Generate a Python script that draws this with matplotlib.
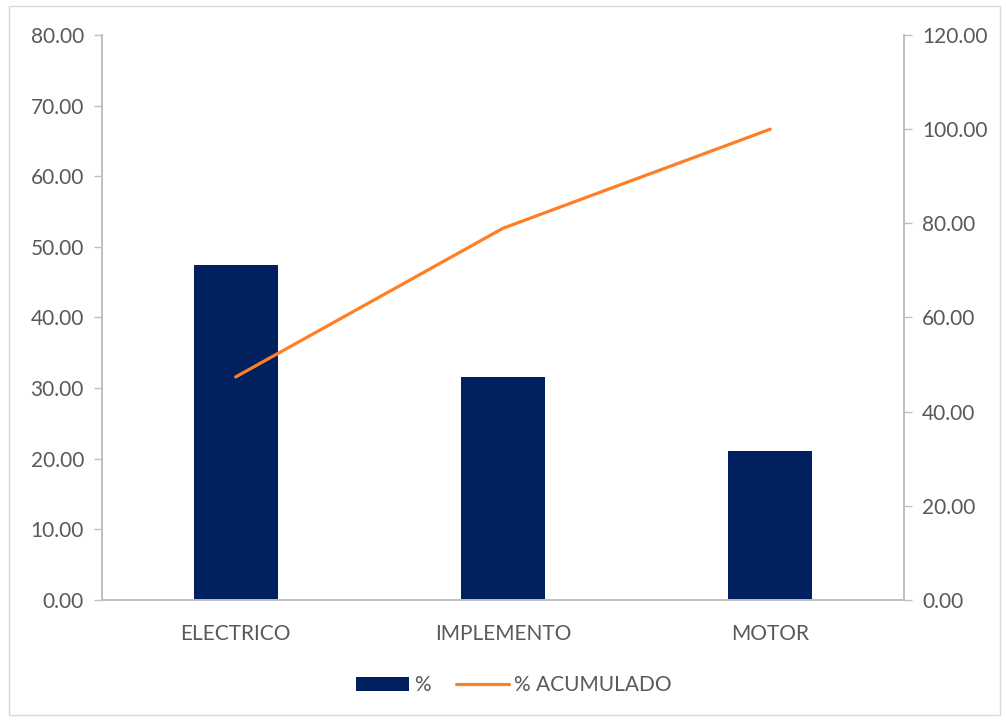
import matplotlib.pyplot as plt
from matplotlib.patches import Rectangle
import numpy as np

# Pareto de fallas por sistema
categorias = ['ELECTRICO', 'IMPLEMENTO', 'MOTOR']
porcentaje = [47.37, 31.58, 21.05]
acumulado = [47.37, 78.95, 100.00]

plt.rcParams['font.family'] = ['Lato', 'DejaVu Sans']
gris_texto = '#595959'
gris_eje = '#BFBFBF'

fig = plt.figure(figsize=(10.06, 7.2), dpi=100)
fig.patches.append(Rectangle((0.009, 0.007), 0.985, 0.985, transform=fig.transFigure,
                             fill=False, edgecolor='#D9D9D9', linewidth=1))

ax = fig.add_axes([0.1014, 0.1667, 0.7972, 0.7847])
x = np.arange(len(categorias))
barras = ax.bar(x, porcentaje, width=0.315, color='#002060', label='%', zorder=2)
ax.set_xlim(-0.5, 2.5)
ax.set_ylim(0, 80)
ax.set_yticks(np.arange(0, 81, 10))
ax.set_yticklabels(['%.2f' % v for v in np.arange(0, 81, 10)])
ax.set_xticks(x)
ax.set_xticklabels(categorias)

ax2 = ax.twinx()
linea, = ax2.plot(x, acumulado, color='#FF7F27', linewidth=2.3,
                  solid_capstyle='round', label='% ACUMULADO', zorder=3)
ax2.set_ylim(0, 120)
ax2.set_yticks(np.arange(0, 121, 20))
ax2.set_yticklabels(['%.2f' % v for v in np.arange(0, 121, 20)])

for a in (ax, ax2):
    a.spines['top'].set_visible(False)
    for s in ('left', 'right', 'bottom'):
        a.spines[s].set_color(gris_eje)
        a.spines[s].set_linewidth(1.2)
    a.tick_params(colors=gris_texto, labelsize=15, length=6, width=1, color=gris_eje)
ax.tick_params(axis='x', length=0, pad=17)
ax.tick_params(axis='y', pad=7)
ax2.tick_params(axis='y', pad=7)

fig.legend([barras, linea], ['%', '% ACUMULADO'], loc='center',
           bbox_to_anchor=(0.5105, 0.048), ncol=2, frameon=False,
           fontsize=15, labelcolor=gris_texto, handlelength=2.55,
           handleheight=0.65, handletextpad=0.25, columnspacing=1.2)

fig.savefig('out.png', dpi=100)
